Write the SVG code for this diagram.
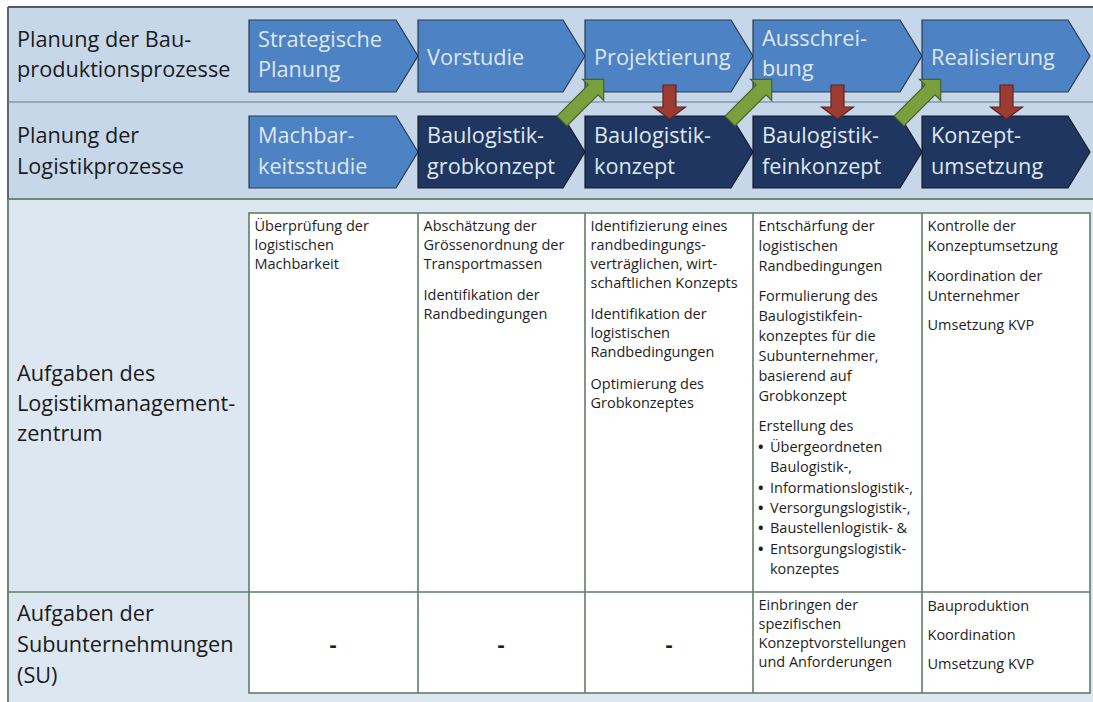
<svg xmlns="http://www.w3.org/2000/svg" width="1093" height="702" viewBox="0 0 1093 702">
<defs>
<style>
.big{font-family:"Open Sans","Noto Sans",sans-serif;font-size:21.7px;fill:#1b1b1b}
.chev{font-family:"Open Sans","Noto Sans",sans-serif;font-size:21.7px;fill:#dfe7f1}
.sm{font-family:"Open Sans","Noto Sans",sans-serif;font-size:14.5px;fill:#1e1e1e}
.bul{font-weight:bold}
.dash{font-family:"Open Sans","Noto Sans",sans-serif;font-size:22px;font-weight:bold;fill:#1e1e1e;text-anchor:middle}
.lb{fill:#4d82c4;stroke:#2c3a4c;stroke-width:1.2}
.nv{fill:#1e3660;stroke:#141c2a;stroke-width:1.2}
.grid{stroke:#5f7d66;stroke-width:1.6;fill:none}
.cellbg{fill:#ffffff;stroke:#5f7d66;stroke-width:1.6}
.ga{fill:#7a9f3e;stroke:#4a6428;stroke-width:1.2}
.ra{fill:#9b3b31;stroke:#5e2520;stroke-width:1.2}
</style>
<path id="garrow" d="M0,-7 L44,-7 L44,-15 L59,0 L44,15 L44,7 L0,7 Z"/>
</defs>

<g id="background">
<rect x="8" y="7" width="1085" height="192" fill="#c6d7ea"/>
<rect x="8" y="199" width="1085" height="503" fill="#dde7f2"/>
<line x1="8" y1="102" x2="1093" y2="102" stroke="#8a97a5" stroke-width="1.6"/>
<line x1="8" y1="199" x2="1093" y2="199" stroke="#6e8a74" stroke-width="2"/>
<line x1="8" y1="7" x2="1093" y2="7" stroke="#5a5a5a" stroke-width="2.2"/>
<line x1="8" y1="7" x2="8" y2="199" stroke="#5f6670" stroke-width="2"/>
<line x1="8" y1="199" x2="8" y2="702" stroke="#6e8a74" stroke-width="2"/>
</g>

<g id="table">
<rect class="cellbg" x="249" y="213" width="841" height="480"/>
<line class="grid" x1="418" y1="213" x2="418" y2="693"/>
<line class="grid" x1="585" y1="213" x2="585" y2="693"/>
<line class="grid" x1="753" y1="213" x2="753" y2="693"/>
<line class="grid" x1="922" y1="213" x2="922" y2="693"/>
<line class="grid" x1="8" y1="592" x2="1090" y2="592"/>
</g>

<g id="label-bauproduktion">
<text class="big" x="17" y="47">Planung der Bau-</text>
<text class="big" x="17" y="77">produktionsprozesse</text>
</g>
<g id="label-logistik">
<text class="big" x="17" y="143">Planung der</text>
<text class="big" x="17" y="174">Logistikprozesse</text>
</g>
<g id="label-lmz">
<text class="big" x="17" y="381">Aufgaben des</text>
<text class="big" x="17" y="411">Logistikmanagement-</text>
<text class="big" x="17" y="441">zentrum</text>
</g>
<g id="label-su">
<text class="big" x="17" y="621">Aufgaben der</text>
<text class="big" x="17" y="652">Subunternehmungen</text>
<text class="big" x="17" y="683">(SU)</text>
</g>

<g id="chev-strategische">
<path class="lb" d="M249,20 L396,20 L418,56 L396,92 L249,92 Z"/>
<text class="chev" x="258" y="47">Strategische</text>
<text class="chev" x="258" y="77">Planung</text>
</g>
<g id="chev-vorstudie">
<path class="lb" d="M418,20 L563,20 L585,56 L563,92 L418,92 Z"/>
<text class="chev" x="427" y="65">Vorstudie</text>
</g>
<g id="chev-projektierung">
<path class="lb" d="M585,20 L731,20 L753,56 L731,92 L585,92 Z"/>
<text class="chev" x="594" y="65">Projektierung</text>
</g>
<g id="chev-ausschreibung">
<path class="lb" d="M753,20 L900,20 L922,56 L900,92 L753,92 Z"/>
<text class="chev" x="762" y="46">Ausschrei-</text>
<text class="chev" x="762" y="76">bung</text>
</g>
<g id="chev-realisierung">
<path class="lb" d="M922,20 L1068,20 L1090,56 L1068,92 L922,92 Z"/>
<text class="chev" x="931" y="65">Realisierung</text>
</g>

<g id="chev-machbarkeit">
<path class="lb" d="M249,116 L396,116 L418,152 L396,188 L249,188 Z"/>
<text class="chev" x="258" y="143">Machbar-</text>
<text class="chev" x="258" y="174">keitsstudie</text>
</g>
<g id="chev-grobkonzept">
<path class="nv" d="M418,116 L563,116 L585,152 L563,188 L418,188 Z"/>
<text class="chev" x="427" y="143">Baulogistik-</text>
<text class="chev" x="427" y="174">grobkonzept</text>
</g>
<g id="chev-konzept">
<path class="nv" d="M585,116 L731,116 L753,152 L731,188 L585,188 Z"/>
<text class="chev" x="594" y="143">Baulogistik-</text>
<text class="chev" x="594" y="174">konzept</text>
</g>
<g id="chev-feinkonzept">
<path class="nv" d="M753,116 L900,116 L922,152 L900,188 L753,188 Z"/>
<text class="chev" x="762" y="143">Baulogistik-</text>
<text class="chev" x="762" y="174">feinkonzept</text>
</g>
<g id="chev-umsetzung">
<path class="nv" d="M922,116 L1068,116 L1090,152 L1068,188 L922,188 Z"/>
<text class="chev" x="931" y="143">Konzept-</text>
<text class="chev" x="931" y="174">umsetzung</text>
</g>

<g id="cell-lmz-1">
<text class="sm" x="254.5" y="231">Überprüfung der</text>
<text class="sm" x="254.5" y="250">logistischen</text>
<text class="sm" x="254.5" y="269">Machbarkeit</text>
</g>
<g id="cell-lmz-2">
<text class="sm" x="423.5" y="231">Abschätzung der</text>
<text class="sm" x="423.5" y="250">Grössenordnung der</text>
<text class="sm" x="423.5" y="269">Transportmassen</text>
<text class="sm" x="423.5" y="300">Identifikation der</text>
<text class="sm" x="423.5" y="319">Randbedingungen</text>
</g>
<g id="cell-lmz-3">
<text class="sm" x="590.5" y="231">Identifizierung eines</text>
<text class="sm" x="590.5" y="250">randbedingungs-</text>
<text class="sm" x="590.5" y="269">verträglichen, wirt-</text>
<text class="sm" x="590.5" y="288">schaftlichen Konzepts</text>
<text class="sm" x="590.5" y="319">Identifikation der</text>
<text class="sm" x="590.5" y="338">logistischen</text>
<text class="sm" x="590.5" y="357">Randbedingungen</text>
<text class="sm" x="590.5" y="389">Optimierung des</text>
<text class="sm" x="590.5" y="408">Grobkonzeptes</text>
</g>
<g id="cell-lmz-4">
<text class="sm" x="758.5" y="231">Entschärfung der</text>
<text class="sm" x="758.5" y="251">logistischen</text>
<text class="sm" x="758.5" y="271">Randbedingungen</text>
<text class="sm" x="758.5" y="301">Formulierung des</text>
<text class="sm" x="758.5" y="321">Baulogistikfein-</text>
<text class="sm" x="758.5" y="341">konzeptes für die</text>
<text class="sm" x="758.5" y="361">Subunternehmer,</text>
<text class="sm" x="758.5" y="381">basierend auf</text>
<text class="sm" x="758.5" y="401">Grobkonzept</text>
<text class="sm" x="758.5" y="431">Erstellung des</text>
<text class="sm" x="758" y="452"><tspan class="bul">•</tspan><tspan x="770">Übergeordneten</tspan></text>
<text class="sm" x="770" y="472">Baulogistik-,</text>
<text class="sm" x="758" y="493"><tspan class="bul">•</tspan><tspan x="770">Informationslogistik-,</tspan></text>
<text class="sm" x="758" y="513"><tspan class="bul">•</tspan><tspan x="770">Versorgungslogistik-,</tspan></text>
<text class="sm" x="758" y="533"><tspan class="bul">•</tspan><tspan x="770">Baustellenlogistik- &amp;</tspan></text>
<text class="sm" x="758" y="554"><tspan class="bul">•</tspan><tspan x="770">Entsorgungslogistik-</tspan></text>
<text class="sm" x="770" y="574">konzeptes</text>
</g>
<g id="cell-lmz-5">
<text class="sm" x="927.5" y="231">Kontrolle der</text>
<text class="sm" x="927.5" y="251">Konzeptumsetzung</text>
<text class="sm" x="927.5" y="281">Koordination der</text>
<text class="sm" x="927.5" y="301">Unternehmer</text>
<text class="sm" x="927.5" y="330">Umsetzung KVP</text>
</g>

<g id="cell-su-1"><text class="dash" x="333" y="652">-</text></g>
<g id="cell-su-2"><text class="dash" x="501" y="652">-</text></g>
<g id="cell-su-3"><text class="dash" x="669" y="652">-</text></g>
<g id="cell-su-4">
<text class="sm" x="758.5" y="610">Einbringen der</text>
<text class="sm" x="758.5" y="629">spezifischen</text>
<text class="sm" x="758.5" y="648">Konzeptvorstellungen</text>
<text class="sm" x="758.5" y="667">und Anforderungen</text>
</g>
<g id="cell-su-5">
<text class="sm" x="927.5" y="611">Bauproduktion</text>
<text class="sm" x="927.5" y="640">Koordination</text>
<text class="sm" x="927.5" y="669">Umsetzung KVP</text>
</g>

<g id="connectors">
<use href="#garrow" class="ga" transform="translate(562,121) rotate(-45)"/>
<use href="#garrow" class="ga" transform="translate(730,121) rotate(-45)"/>
<use href="#garrow" class="ga" transform="translate(899,121) rotate(-45)"/>
<path class="ra" d="M663,85 L676,85 L676,107 L685.5,107 L669.5,119 L653.5,107 L663,107 Z"/>
<path class="ra" d="M831,85 L844,85 L844,107 L853.5,107 L837.5,119 L821.5,107 L831,107 Z"/>
<path class="ra" d="M1000,85 L1013,85 L1013,107 L1022.5,107 L1006.5,119 L990.5,107 L1000,107 Z"/>
</g>
</svg>
